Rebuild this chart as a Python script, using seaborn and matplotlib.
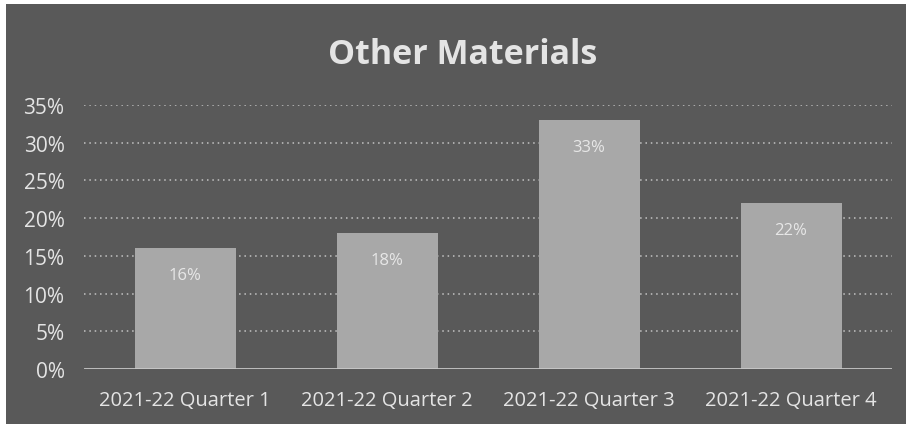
import matplotlib
matplotlib.use("Agg")
import matplotlib.pyplot as plt
import matplotlib.patches as mpatches
from matplotlib.ticker import FuncFormatter, MultipleLocator
import seaborn as sns
import pandas as pd

quarters = ["2021-22 Quarter 1", "2021-22 Quarter 2", "2021-22 Quarter 3", "2021-22 Quarter 4"]
shares = [16, 18, 33, 22]
title = "Other Materials"

bg = "#595959"
bar_color = "#a8a8a8"
text_color = "#e4e4e4"

sns.set_theme(style="white")
plt.rcParams["font.family"] = ["Open Sans", "DejaVu Sans"]

df = pd.DataFrame({"quarter": quarters, "share": shares})

W, H = 906, 427
fig = plt.figure(figsize=(W / 100, H / 100), dpi=100, facecolor="white")
# dark chart panel
fig.patches.append(mpatches.Rectangle((6 / W, 2 / H), 1 - 6 / W, 1 - 7 / H,
                                      transform=fig.transFigure, facecolor=bg,
                                      edgecolor="none", zorder=-10))

left, right = 84 / W, 892 / W
bottom, top = 1 - 370 / H, 1 - 106 / H
ax = fig.add_axes([left, bottom, right - left, top - bottom])
ax.set_facecolor(bg)
ax.patch.set_alpha(0)

sns.barplot(data=df, x="quarter", y="share", color=bar_color, width=0.5,
            saturation=1, linewidth=0, edgecolor="none", ax=ax, zorder=3)

ax.set_ylim(0, 35)
ax.set_xlim(-0.5, len(quarters) - 0.5)
ax.yaxis.set_major_locator(MultipleLocator(5))
ax.yaxis.set_major_formatter(FuncFormatter(lambda v, p: f"{v:.0f}%"))
for v in range(5, 40, 5):
    ax.axhline(v, color="#c4c4c4", linestyle=(0, (1, 2.5)), linewidth=1.1, zorder=1)
ax.axhline(0, color="#c8c8c8", linewidth=2, zorder=4)

for i, v in enumerate(shares):
    ax.text(i, v - 3.6, f"{v}%", ha="center", va="center", color="#f2f2f2",
            alpha=0.85, fontsize=12, zorder=5)

ax.set_xlabel("")
ax.set_ylabel("")
for s in ax.spines.values():
    s.set_visible(False)
ax.tick_params(axis="both", length=0, colors=text_color)
ax.tick_params(axis="x", pad=15, labelsize=14.5)
ax.tick_params(axis="y", pad=14, labelsize=15)
for lab in ax.get_xticklabels() + ax.get_yticklabels():
    lab.set_color(text_color)

fig.text(463 / W, 1 - 55 / H, title, ha="center", va="center", color=text_color,
         fontsize=24.5, fontweight="bold")

fig.savefig("out.png", dpi=100, facecolor="white")
